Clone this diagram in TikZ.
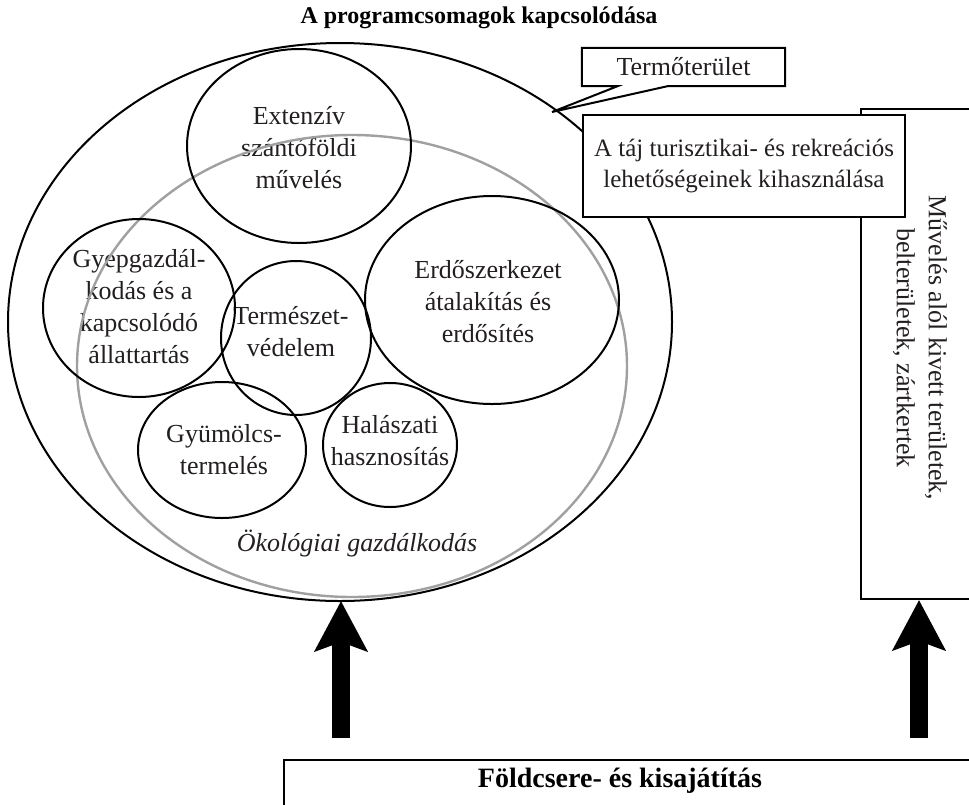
\documentclass[tikz,border=0pt]{standalone}
\usepackage{fontspec}
\setmainfont{Liberation Serif}
\usetikzlibrary{arrows.meta}
\definecolor{ringgray}{RGB}{160,160,160}
\definecolor{txt}{RGB}{35,31,32}

\begin{document}
\begin{tikzpicture}[x=1pt, y=-1pt,
intext/.style={font=\fontsize{26}{32}\selectfont, text=txt, align=center, inner sep=0pt},
box/.style={draw, line width=2pt, fill=white},
ring/.style={draw, line width=2pt},
bigarrow/.style={-{Stealth[length=50pt, width=52pt, inset=9pt]}, line width=18pt}]

\useasboundingbox (0,0) rectangle (969,804);
\clip (0,0) rectangle (969,804);

\node[font=\fontsize{24}{28}\selectfont\bfseries] (title) at (479,18) {A programcsomagok kapcsolódása};

% program packages
\node[intext] (ext)  at (299,148) {Extenzív\\szántóföldi\\művelés};
\node[intext] (gyep) at (139,307) {Gyepgazdál-\\kodás és a\\kapcsolódó\\állattartás};
\node[intext] (term) at (291,332) {Természet-\\védelem};
\node[intext] (erdo) at (488,302) {Erdőszerkezet\\átalakítás és\\erdősítés};
\node[intext] (gyum) at (224,450) {Gyümölcs-\\termelés};
\node[intext] (hal)  at (390,441) {Halászati\\hasznosítás};
\node[intext, font=\fontsize{26}{32}\selectfont\itshape] (oko) at (357,543) {Ökológiai gazdálkodás};

\draw[ring] (340,322) ellipse [x radius=332pt, y radius=279pt];
\draw[ring, draw=ringgray, line width=2.4pt] (352,366) ellipse [x radius=275pt, y radius=231pt];
\draw[ring] ([yshift=2pt]ext.center) ellipse [x radius=112pt, y radius=97pt];
\draw[ring] ([yshift=-1pt]gyep.center) ellipse [x radius=96pt, y radius=89pt];
\draw[ring] ([xshift=5pt, yshift=-6pt]term.center) ellipse [x radius=75pt, y radius=77pt];
\draw[ring] ([xshift=4pt, yshift=2pt]erdo.center) ellipse [x radius=127pt, y radius=104pt];
\draw[ring] ([xshift=-2pt]gyum.center) ellipse [x radius=84pt, y radius=68pt];
\draw[ring] ([yshift=-4pt]hal.center) ellipse [x radius=67pt, y radius=62pt];

% callout
\node[intext, minimum width=203pt, minimum height=38pt] (termo) at (683.5,67) {Termőterület};
\coordinate (tip) at (552,112);
\draw[line width=2pt] (termo.north west) -- (termo.north east) -- (termo.south east)
 -- ([xshift=-16pt]termo.south) -- (tip) -- ([xshift=-66pt]termo.south) -- (termo.south west) -- cycle;

% right side
\node[box, anchor=north west, minimum width=140pt, minimum height=490pt] (kivett) at (860,108) {};
\node[intext, rotate=-90] (kivetttext) at (920,348) {Művelés alól kivett területek,\\belterületek, zártkertek};

\node[box, intext, font=\fontsize{25}{31}\selectfont, minimum width=322pt, minimum height=102pt] (turi) at (744,166) {A táj turisztikai- és rekreációs\\lehetőségeinek kihasználása};

% bottom
\node[box, anchor=north west, minimum width=720pt, minimum height=80pt] (fold) at (283,759) {};
\node[font=\fontsize{28}{32}\selectfont\bfseries] (foldtext) at (620,781) {Földcsere- és kisajátítás};

\coordinate (a1s) at (341,738);
\coordinate (a1e) at (341,601);
\coordinate (a2s) at (919,738);
\coordinate (a2e) at (919,600);
\draw[bigarrow] (a1s) -- (a1e);
\draw[bigarrow] (a2s) -- (a2e);

\end{tikzpicture}
\end{document}
